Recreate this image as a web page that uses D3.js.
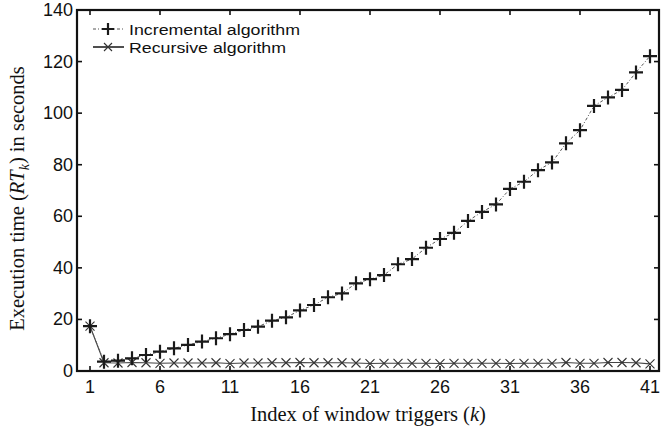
<!DOCTYPE html>
<html>
<head>
<meta charset="utf-8">
<script src="https://cdn.jsdelivr.net/npm/d3@7"></script>
<style>
  body { margin: 0; background: #fff; }
  .tick-label { font-family: "Liberation Sans", Arial, sans-serif; font-size: 18px; fill: #111; }
  .legend-label { font-family: "Liberation Sans", Arial, sans-serif; font-size: 15.5px; fill: #111; }
  .axis-title { font-family: "Liberation Serif", "DejaVu Serif", serif; font-size: 20.5px; fill: #111; }
</style>
</head>
<body>
<div id="chart"></div>
<script>
// Data
const windowIndex = d3.range(1, 42);
const incremental = [17.4, 3.6, 4.0, 4.9, 6.2, 7.5, 8.8, 10.1, 11.4, 12.7,
                     14.3, 15.9, 17.2, 19.5, 20.8, 23.5, 25.6, 28.6, 30.1, 34.0,
                     35.6, 37.2, 41.4, 43.4, 47.8, 51.2, 53.6, 58.2, 61.7, 64.6,
                     70.6, 73.4, 77.9, 80.9, 88.3, 93.4, 102.8, 106.1, 109.0, 115.8, 122.1];
const recursive = [17.4, 3.2, 3.1, 3.3, 3.2, 3.0, 3.1, 3.1, 3.1, 3.2,
                   2.9, 3.1, 3.1, 3.2, 3.2, 3.3, 3.2, 3.2, 3.2, 3.1,
                   2.9, 3.0, 3.0, 3.0, 3.0, 2.9, 3.0, 3.0, 3.0, 3.0,
                   2.9, 3.0, 3.0, 3.0, 3.3, 3.0, 3.0, 3.3, 3.3, 3.2, 2.8];
const xTicks = [1, 6, 11, 16, 21, 26, 31, 36, 41];
const yTicks = [0, 20, 40, 60, 80, 100, 120, 140];
const legendNames = ["Incremental algorithm", "Recursive algorithm"];

const params = {
    width: 661,
    height: 430,
    box: {left: 77, right: 659, top: 10, bottom: 371}
};

const svg = d3.select("#chart")
    .append("svg")
    .attr("width", params.width)
    .attr("height", params.height);

const x = d3.scaleLinear()
    .domain([1, 41])
    .range([90, 650]);

const y = d3.scaleLinear()
    .domain([0, 140])
    .range([params.box.bottom, params.box.top]);

const box = params.box;
const tickLen = 5;

// ticks, inward on all four sides
const ticks = svg.append("g").attr("stroke", "#111").attr("stroke-width", 1.6);
xTicks.forEach(function(t) {
    ticks.append("line").attr("x1", x(t)).attr("x2", x(t)).attr("y1", box.bottom).attr("y2", box.bottom - tickLen);
    ticks.append("line").attr("x1", x(t)).attr("x2", x(t)).attr("y1", box.top).attr("y2", box.top + tickLen);
});
yTicks.forEach(function(t) {
    ticks.append("line").attr("x1", box.left).attr("x2", box.left + tickLen).attr("y1", y(t)).attr("y2", y(t));
    ticks.append("line").attr("x1", box.right).attr("x2", box.right - tickLen).attr("y1", y(t)).attr("y2", y(t));
});

// tick labels
svg.append("g").selectAll("text")
    .data(xTicks)
    .join("text")
    .attr("class", "tick-label")
    .attr("x", d => x(d))
    .attr("y", box.bottom + 22)
    .attr("text-anchor", "middle")
    .text(d => d);

svg.append("g").selectAll("text")
    .data(yTicks)
    .join("text")
    .attr("class", "tick-label")
    .attr("x", box.left - 4)
    .attr("y", d => y(d) + 6)
    .attr("text-anchor", "end")
    .text(d => d);

// series lines
const lineGen = d3.line()
    .x((d, i) => x(windowIndex[i]))
    .y(d => y(d));

svg.append("path")
    .datum(recursive)
    .attr("d", lineGen)
    .attr("fill", "none")
    .attr("stroke", "#444")
    .attr("stroke-width", 1.2);

svg.append("path")
    .datum(incremental)
    .attr("d", lineGen)
    .attr("fill", "none")
    .attr("stroke", "#555")
    .attr("stroke-width", 1)
    .attr("stroke-dasharray", "3,2,1,2");

// markers
function plusMarker(g, cx, cy, s) {
    g.append("path")
        .attr("d", `M${cx - s},${cy}H${cx + s}M${cx},${cy - s}V${cy + s}`)
        .attr("stroke", "#1a1a1a")
        .attr("stroke-width", 2.2);
}
function crossMarker(g, cx, cy, s) {
    g.append("path")
        .attr("d", `M${cx - s},${cy - s}L${cx + s},${cy + s}M${cx - s},${cy + s}L${cx + s},${cy - s}`)
        .attr("stroke", "#333")
        .attr("stroke-width", 1.1);
}

const recMarks = svg.append("g");
recursive.forEach(function(v, i) { crossMarker(recMarks, x(windowIndex[i]), y(v), 4.5); });

const incMarks = svg.append("g");
incremental.forEach(function(v, i) { plusMarker(incMarks, x(windowIndex[i]), y(v), 7); });

// frame
svg.append("rect")
    .attr("x", box.left)
    .attr("y", box.top)
    .attr("width", box.right - box.left)
    .attr("height", box.bottom - box.top)
    .attr("fill", "none")
    .attr("stroke", "#111")
    .attr("stroke-width", 2.2);

// legend
const legend = svg.append("g");
const ly = [29, 47];
const legendWidths = [171, 157];
legend.append("line").attr("x1", 93).attr("x2", 124).attr("y1", ly[0]).attr("y2", ly[0])
    .attr("stroke", "#555").attr("stroke-width", 1).attr("stroke-dasharray", "3,2,1,2");
plusMarker(legend, 108, ly[0], 6);
legend.append("line").attr("x1", 93).attr("x2", 124).attr("y1", ly[1]).attr("y2", ly[1])
    .attr("stroke", "#222").attr("stroke-width", 1.6);
crossMarker(legend, 108, ly[1], 4);
legend.selectAll("text.legend-label")
    .data(legendNames)
    .join("text")
    .attr("class", "legend-label")
    .attr("x", 129)
    .attr("y", (d, i) => ly[i] + 5.5)
    .attr("textLength", (d, i) => legendWidths[i])
    .attr("lengthAdjust", "spacingAndGlyphs")
    .text(d => d);

// axis titles
const xt = svg.append("text")
    .attr("class", "axis-title")
    .attr("x", (box.left + box.right) / 2)
    .attr("y", 421)
    .attr("text-anchor", "middle");
xt.append("tspan").text("Index of window triggers (");
xt.append("tspan").attr("font-style", "italic").text("k");
xt.append("tspan").text(")");

const yt = svg.append("text")
    .attr("class", "axis-title")
    .attr("transform", `translate(24, ${(box.top + box.bottom) / 2 + 8}) rotate(-90)`)
    .attr("text-anchor", "middle");
yt.append("tspan").text("Execution time (");
yt.append("tspan").attr("font-style", "italic").text("RT");
yt.append("tspan").attr("font-style", "italic").attr("font-size", "14px").attr("dy", 5).text("k");
yt.append("tspan").attr("dy", -5).text(") in seconds");
</script>
</body>
</html>
